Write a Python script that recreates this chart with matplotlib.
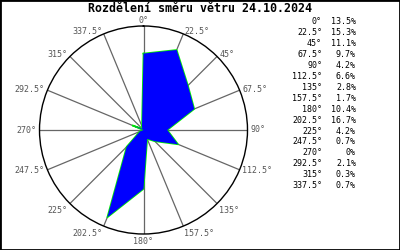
import numpy as np
import matplotlib
matplotlib.use("Agg")
import matplotlib.pyplot as plt
from matplotlib.patches import Rectangle

# wind direction share, 24.10.2024
directions = [0, 22.5, 45, 67.5, 90, 112.5, 135, 157.5,
              180, 202.5, 225, 247.5, 270, 292.5, 315, 337.5]
shares = [13.5, 15.3, 11.1, 9.7, 4.2, 6.6, 2.8, 1.7,
          10.4, 16.7, 4.2, 0.7, 0.0, 2.1, 0.3, 0.7]
dir_labels = ["0°", "22.5°", "45°", "67.5°", "90°", "112.5°", "135°", "157.5°",
              "180°", "202.5°", "225°", "247.5°", "270°", "292.5°", "315°", "337.5°"]
share_labels = ["13.5%", "15.3%", "11.1%", "9.7%", "4.2%", "6.6%", "2.8%", "1.7%",
                "10.4%", "16.7%", "4.2%", "0.7%", "0%", "2.1%", "0.3%", "0.7%"]
title = "Rozdělení směru větru 24.10.2024"

mono = "DejaVu Sans Mono"
W, H = 400, 250
fig = plt.figure(figsize=(W / 100, H / 100), dpi=100)

cx, cy, R = 143.5, 130, 104
ax = fig.add_axes([(cx - R) / W, (H - cy - R) / H, 2 * R / W, 2 * R / H], projection="polar")
ax.set_theta_zero_location("N")
ax.set_theta_direction(-1)
rmax = max(shares) * 1.1
ax.set_ylim(0, rmax)
ax.set_xticks([])
ax.set_yticks([])
ax.grid(False)
ax.spines["polar"].set_color("black")
ax.spines["polar"].set_linewidth(1.0)

theta = np.deg2rad(directions)

# spokes
for t in theta:
    ax.plot([t, t], [0, rmax], color="#666666", lw=0.9, zorder=1)

# rose polygon
th_c = np.append(theta, theta[0])
r_c = np.append(shares, shares[0])
ax.plot(th_c, r_c, color="#00ee00", lw=1.2, zorder=2)
ax.fill(th_c, r_c, color="#0000ff", lw=0, zorder=3)

# angle labels around the circle
for t, lab in zip(theta, dir_labels):
    s, c = np.sin(t), np.cos(t)
    ha = "left" if s > 0.1 else ("right" if s < -0.1 else "center")
    if abs(s) < 0.1:
        va = "bottom" if c > 0 else "top"
        rr = rmax * (1.005 if c > 0 else 1.025)
    else:
        va = "top" if c < -0.5 else "center"
        rr = rmax * 1.03
    ax.text(t, rr, lab, ha=ha, va=va, fontsize=6, family=mono,
            color="#555555", clip_on=False)

# title
fig.text(200 / W, 1 - 8 / H, title, ha="center", va="center", fontsize=8.4,
         family=mono, fontweight="bold")

# legend column
y0, dy = 22, 10.9
for i, (dl, sl) in enumerate(zip(dir_labels, share_labels)):
    y = 1 - (y0 + i * dy) / H
    fig.text(322 / W, y, dl, ha="right", va="center", fontsize=6, family=mono)
    fig.text(356 / W, y, sl, ha="right", va="center", fontsize=6, family=mono)

fig.add_artist(Rectangle((0, 0), 1, 1, transform=fig.transFigure, fill=False,
                         edgecolor="black", lw=2))

fig.savefig("out.png", dpi=100)
